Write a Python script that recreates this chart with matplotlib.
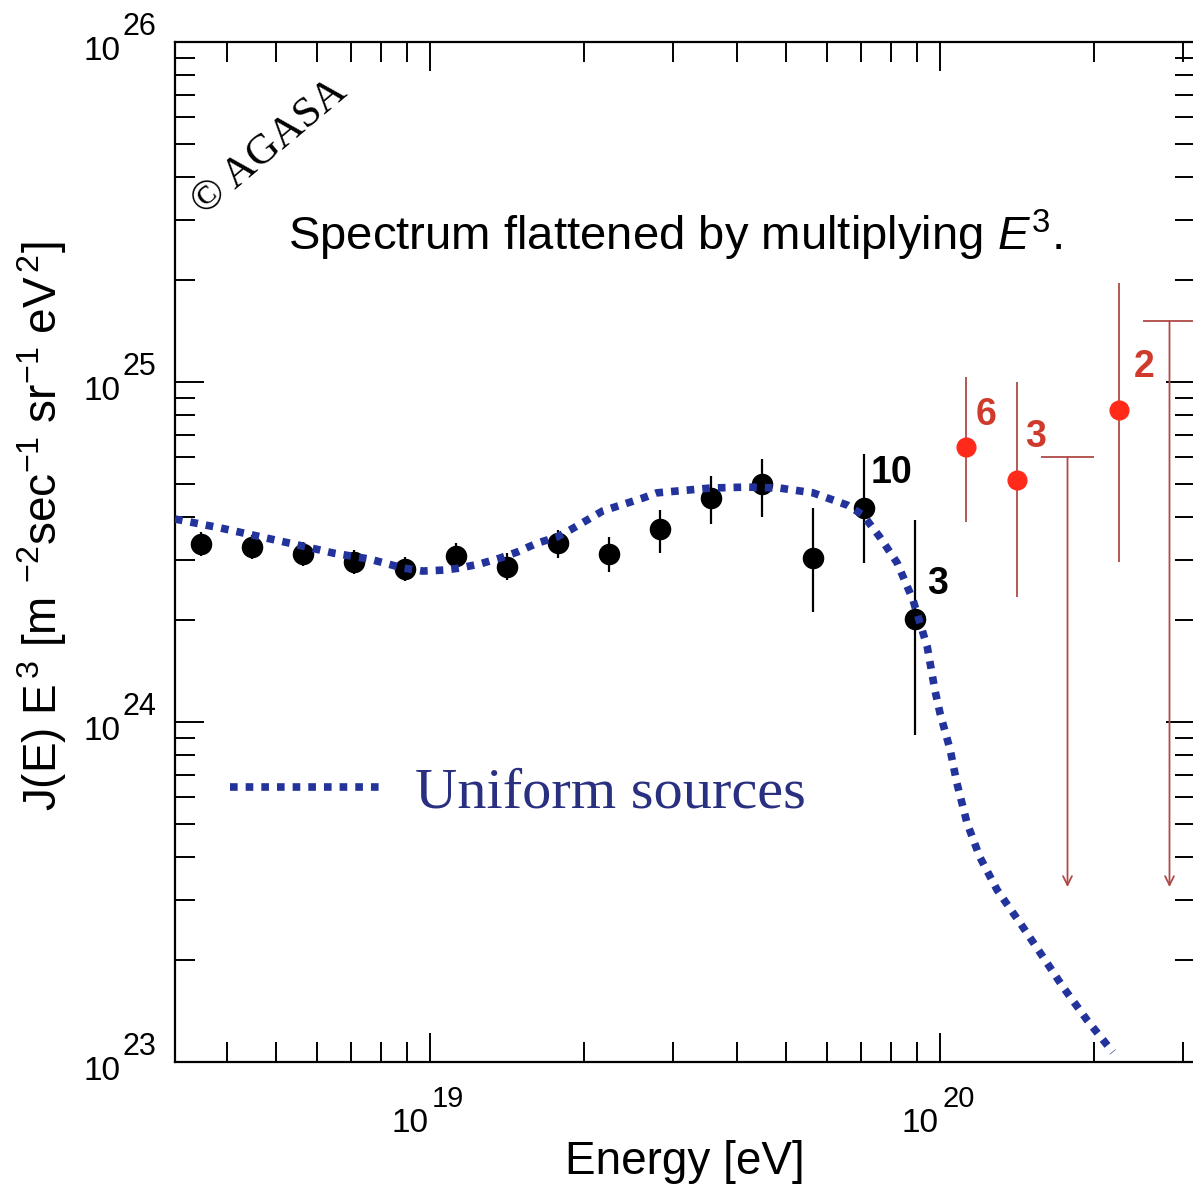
import matplotlib
matplotlib.use('Agg')
import matplotlib.pyplot as plt
import numpy as np

plt.rcParams['font.family'] = ['Liberation Sans', 'DejaVu Sans']
plt.rcParams['mathtext.fontset'] = 'custom'
plt.rcParams['mathtext.rm'] = 'Liberation Sans'
plt.rcParams['mathtext.it'] = 'Liberation Sans:italic'
plt.rcParams['mathtext.bf'] = 'Liberation Sans:bold'
plt.rcParams['mathtext.default'] = 'regular'

# AGASA-Punkte (log10 E), Werte J(E) E^3
logE_agasa = [18.55, 18.65, 18.75, 18.85, 18.95, 19.05, 19.15, 19.25, 19.35, 19.45,
              19.55, 19.65, 19.75, 19.85, 19.95]
flux_agasa = [3.34e24, 3.27e24, 3.12e24, 2.96e24, 2.82e24, 3.08e24, 2.86e24, 3.36e24,
              3.12e24, 3.70e24, 4.56e24, 5.01e24, 3.03e24, 4.26e24, 2.01e24]
flux_hi = [3.62e24, 3.55e24, 3.38e24, 3.21e24, 3.06e24, 3.36e24, 3.14e24, 3.67e24,
           3.50e24, 4.21e24, 5.30e24, 5.95e24, 4.26e24, 6.14e24, 3.93e24]
flux_lo = [3.08e24, 3.02e24, 2.88e24, 2.72e24, 2.60e24, 2.88e24, 2.62e24, 3.03e24,
           2.76e24, 3.14e24, 3.82e24, 4.01e24, 2.11e24, 2.94e24, 9.17e23]

# Punkte oberhalb GZK (rot)
logE_gzk = [20.05, 20.15, 20.35]
flux_gzk = [6.44e24, 5.15e24, 8.28e24]
gzk_hi = [1.035e25, 1.0e25, 1.95e25]
gzk_lo = [3.87e24, 2.33e24, 2.96e24]
gzk_counts = ['6', '3', '2']

# obere Grenzen
logE_ul = [20.25, 20.45]
flux_ul = [6.01e24, 1.51e25]
ul_end = [3.27e23, 3.27e23]

# Zahlen an den schwarzen Punkten
black_count_idx = [13, 14]
black_counts = ['10', '3']

# Modell "Uniform sources"
model_logE = [18.500, 18.588, 18.661, 18.731, 18.810, 18.882, 18.947, 18.986, 19.029,
              19.059, 19.098, 19.137, 19.171, 19.210, 19.249, 19.275, 19.339, 19.418,
              19.445, 19.549, 19.622, 19.686, 19.751, 19.818, 19.849, 19.882, 19.916,
              19.947, 19.975, 19.990, 20.000, 20.020, 20.033, 20.053, 20.078, 20.112,
              20.157, 20.202, 20.241, 20.288, 20.339]
model_logJ = [24.597, 24.571, 24.547, 24.524, 24.497, 24.479, 24.453, 24.444, 24.447,
              24.453, 24.465, 24.482, 24.500, 24.526, 24.544, 24.565, 24.621, 24.659,
              24.674, 24.688, 24.691, 24.688, 24.674, 24.638, 24.609, 24.544, 24.468,
              24.359, 24.221, 24.094, 24.026, 23.918, 23.821, 23.703, 23.603, 23.506,
              23.409, 23.309, 23.221, 23.124, 23.029]

xticks_exp = [19, 20]
yticks_exp = [23, 24, 25, 26]

E = 10**np.array(logE_agasa)
Eg = 10**np.array(logE_gzk)
Eu = 10**np.array(logE_ul)
fa = np.array(flux_agasa)
fg = np.array(flux_gzk)

fig = plt.figure(figsize=(11.93, 11.95), dpi=100)
ax = fig.add_axes([175/1193, 133/1195, 1020/1193, 1020/1195])
ax.set_xscale('log')
ax.set_yscale('log')
ax.set_xlim(10**18.5, 10**20.5)
ax.set_ylim(1e23, 1e26)

blue = '#23339c'
red_line = '#b04a48'

# Modellkurve
ax.plot(10**np.array(model_logE), 10**np.array(model_logJ), color=blue, lw=5.5,
        linestyle=(0, (1.0, 1.05)), dash_capstyle='butt', zorder=5,
        label='Uniform sources')

# AGASA schwarz
ax.errorbar(E, fa, yerr=[fa - np.array(flux_lo), np.array(flux_hi) - fa], fmt='o',
            color='black', ms=14.5, elinewidth=1.6, capsize=0, zorder=4)
for i, t in zip(black_count_idx, black_counts):
    ax.annotate(t, (E[i], fa[i]), xytext=(28 if t == '10' else 23, 35),
                textcoords='offset pixels', ha='center', va='center',
                fontsize=27, fontweight='bold', color='black')

# rote Punkte
ax.vlines(Eg, gzk_lo, gzk_hi, color=red_line, lw=1.3, zorder=3)
ax.plot(Eg, fg, 'o', color='#ff2a1a', ms=13.5, zorder=4)
offs = [(21, 32), (19, 43), (26, 43)]
for x, y, t, o in zip(Eg, fg, gzk_counts, offs):
    ax.annotate(t, (x, y), xytext=o, textcoords='offset pixels', ha='center',
                va='center', fontsize=27, fontweight='bold', color='#cf3a2c')

# obere Grenzen
ax.hlines(flux_ul, Eu * 10**-0.052, Eu * 10**0.052, color=red_line, lw=1.3)
for x, y0, y1 in zip(Eu, flux_ul, ul_end):
    ax.annotate('', xy=(x, y1), xytext=(x, y0),
                arrowprops=dict(arrowstyle='->', color=red_line, lw=1.3,
                                mutation_scale=16, shrinkA=0, shrinkB=0))

# Achsen
for s in ax.spines.values():
    s.set_linewidth(1.6)
ax.tick_params(which='both', direction='in', top=True, right=True,
               labelbottom=False, labelleft=False, width=1.4, color='black')
ax.tick_params(which='major', length=21)
ax.tick_params(which='minor', length=14.5)

for e in xticks_exp:
    ax.annotate('10', (10.0**e, 0), xycoords=ax.get_xaxis_transform(), xytext=(-2, -70),
                textcoords='offset pixels', ha='right', va='baseline', fontsize=24)
    ax.annotate(str(e), (10.0**e, 0), xycoords=ax.get_xaxis_transform(), xytext=(2, -45),
                textcoords='offset pixels', ha='left', va='baseline', fontsize=21)
for e in yticks_exp:
    ax.annotate('10', (0, 10.0**e), xycoords=ax.get_yaxis_transform(), xytext=(-55, -18),
                textcoords='offset pixels', ha='right', va='baseline', fontsize=24,
                annotation_clip=False)
    ax.annotate(str(e), (0, 10.0**e), xycoords=ax.get_yaxis_transform(), xytext=(-53, 7),
                textcoords='offset pixels', ha='left', va='baseline', fontsize=22,
                annotation_clip=False)

ax.text(0.5, -0.098, 'Energy [eV]', transform=ax.transAxes, ha='center', va='center',
        fontsize=33)
ax.text(-0.13, 0.525,
        r'J(E) E$^{\,3}$ [m $^{-2}$sec$^{-1}$ sr$^{-1}$ eV$^{\,2}$]',
        transform=ax.transAxes, rotation=90, ha='center', va='center', fontsize=33)

ax.text(0.111, 0.796, r'Spectrum flattened by multiplying $\mathit{E}^{3}$.',
        transform=ax.transAxes, ha='left', va='baseline', fontsize=34)
ax.text(0.093, 0.897, '\u00a9 AGASA', transform=ax.transAxes, rotation=40, ha='center',
        va='center', fontsize=31, family='Liberation Serif')

leg = ax.legend(loc='center left', bbox_to_anchor=(0.054, 0.264), frameon=False,
                prop={'family': 'Liberation Serif', 'size': 42}, handlelength=2.57,
                handletextpad=0.6, borderpad=0, borderaxespad=0, labelcolor='#2a3080')

plt.savefig('out.png', dpi=100)
